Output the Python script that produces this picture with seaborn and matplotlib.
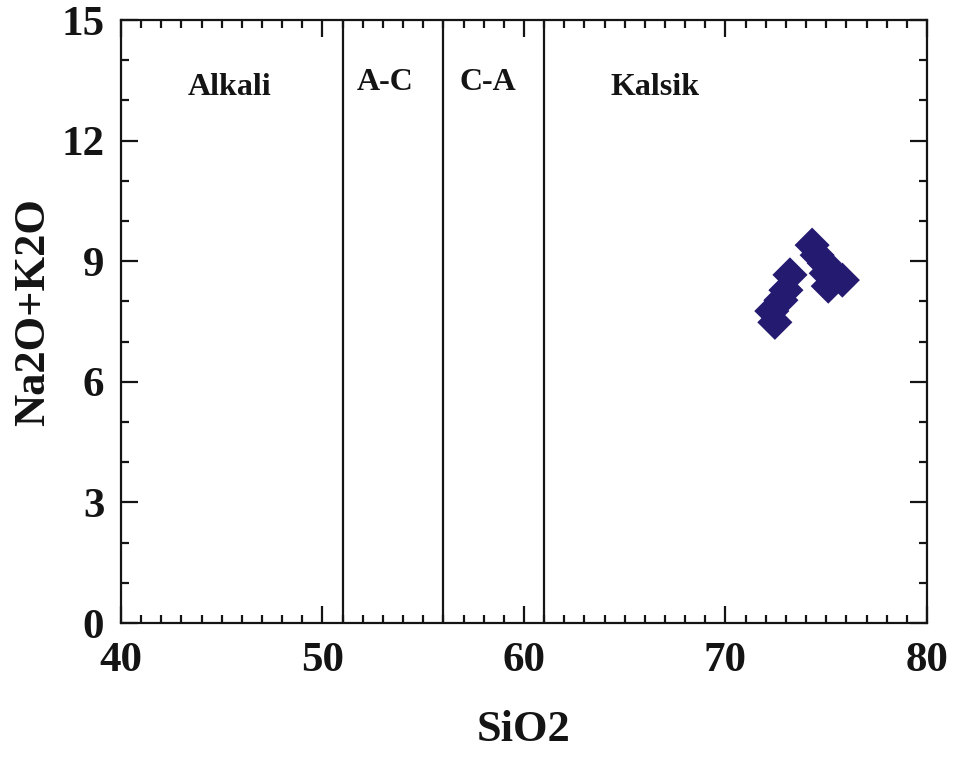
import matplotlib
matplotlib.use("Agg")
import matplotlib.pyplot as plt
from matplotlib.ticker import MultipleLocator
import seaborn as sns
import pandas as pd

# Sample compositions (wt%)
sio2 = [72.45, 72.3, 72.75, 73.0, 73.2, 74.3, 74.55, 74.9, 75.0, 75.1, 75.5, 75.8]
alkali = [7.48, 7.76, 8.03, 8.28, 8.66, 9.40, 9.15, 8.95, 8.70, 8.38, 8.60, 8.53]

# Field boundaries on SiO2 and field names
boundaries = [51, 56, 61]
field_names = ["Alkali", "A-C", "C-A", "Kalsik"]
field_x = [45.4, 53.1, 58.2, 66.5]
field_y = [13.33, 13.45, 13.45, 13.33]

df = pd.DataFrame({"SiO2": sio2, "Na2O+K2O": alkali})

ink = "#141414"
sns.set_style("ticks")
plt.rcParams["font.family"] = ["Liberation Serif", "DejaVu Serif"]
plt.rcParams["font.weight"] = "bold"
plt.rcParams["text.color"] = ink
plt.rcParams["axes.labelcolor"] = ink
plt.rcParams["xtick.labelcolor"] = ink
plt.rcParams["ytick.labelcolor"] = ink

fig = plt.figure(figsize=(9.61, 7.58), dpi=100)
ax = fig.add_axes([0.1259, 0.1781, 0.8387, 0.7955])

sns.scatterplot(data=df, x="SiO2", y="Na2O+K2O", marker="D", s=320,
                color="#241a70", edgecolor="none", linewidth=0, ax=ax, zorder=3)

for b in boundaries:
    ax.axvline(b, color=ink, lw=1.6, zorder=2)

for name, x, y in zip(field_names, field_x, field_y):
    ax.text(x, y, name, ha="center", va="center", fontsize=23,
            fontweight="bold", color=ink)

ax.set_xlim(40, 80)
ax.set_ylim(0, 15)
ax.xaxis.set_major_locator(MultipleLocator(10))
ax.xaxis.set_minor_locator(MultipleLocator(1))
ax.yaxis.set_major_locator(MultipleLocator(3))
ax.yaxis.set_minor_locator(MultipleLocator(1))

ax.tick_params(which="both", direction="in", top=True, right=True,
               width=1.6, color=ink)
ax.tick_params(which="major", length=12, labelsize=31)
ax.tick_params(axis="x", which="major", pad=14)
ax.tick_params(axis="y", which="major", pad=12)
ax.tick_params(which="minor", length=6)
for lbl in ax.get_xticklabels() + ax.get_yticklabels():
    lbl.set_fontweight("bold")

for sp in ax.spines.values():
    sp.set_linewidth(1.6)
    sp.set_color(ink)

ax.set_xlabel("SiO2", fontsize=32, fontweight="bold")
ax.set_ylabel("Na2O+K2O", fontsize=32, fontweight="bold")
ax.xaxis.set_label_coords(0.5, -0.145)
ax.yaxis.set_label_coords(-0.084, 0.516)

fig.savefig("out.png", dpi=100)
